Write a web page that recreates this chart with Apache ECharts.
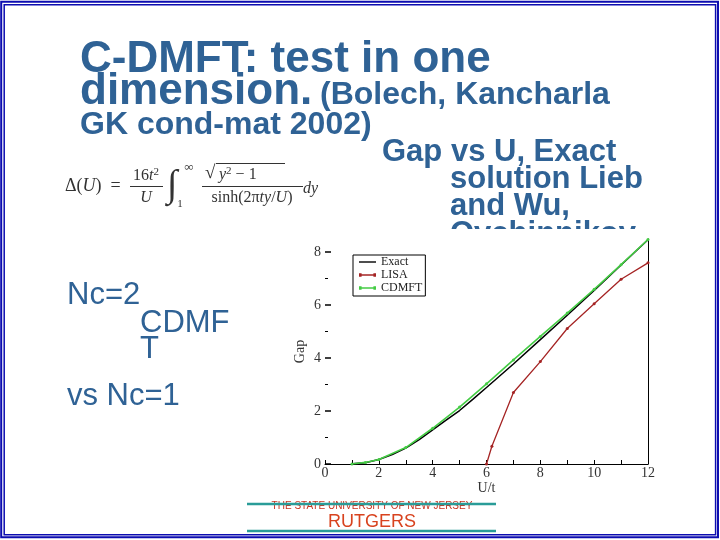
<!DOCTYPE html>
<html>
<head>
<meta charset="utf-8">
<script src="https://cdn.jsdelivr.net/npm/echarts@6/dist/echarts.min.js"></script>
<style>html,body{margin:0;padding:0;background:#fff}#c{width:720px;height:540px}</style>
</head>
<body>
<div id="c"></div>
<script>
// ---- data ----
var exactU   = [1, 1.5, 2, 2.5, 3, 3.5, 4, 4.5, 5, 5.5, 6, 7, 8, 9, 10, 11, 12];
var exactGap = [0.005, 0.05, 0.17, 0.36, 0.6, 0.92, 1.29, 1.66, 2.02, 2.45, 2.89, 3.78, 4.7, 5.62, 6.56, 7.52, 8.47];
var lisaU    = [6, 6.2, 7, 8, 9, 10, 11, 12];
var lisaGap  = [0, 0.67, 2.7, 3.87, 5.12, 6.05, 6.98, 7.6];
var cdmftU   = [1, 1.5, 2, 3, 4, 5, 6, 7, 8, 9, 10, 11, 12];
var cdmftGap = [0, 0.06, 0.17, 0.62, 1.35, 2.15, 3.03, 3.93, 4.82, 5.7, 6.6, 7.53, 8.48];
var yMajorTicks = [0, 2, 4, 6, 8];
var yMinorTicks = [1, 3, 5, 7];
var seriesNames = ['Exact', 'LISA', 'CDMFT'];

function pairs(xs, ys){ return xs.map(function(x,i){ return [x, ys[i]]; }); }

var blue = '#2f6295';
var serif = '"Liberation Serif","DejaVu Serif",serif';
var sans = '"Liberation Sans",Arial,sans-serif';

var iconLine = 'path://M0,2 L17,2 L17,3.4 L0,3.4 Z';
var iconDots = 'path://M0,2 L17,2 L17,3.4 L0,3.4 Z M0,1 L2.6,1 L2.6,4.4 L0,4.4 Z M14.4,1 L17,1 L17,4.4 L14.4,4.4 Z';

var chart = echarts.init(document.getElementById('c'), null, {renderer:'canvas'});

var graphics = [
  // slide double border
  {type:'rect', z:100, shape:{x:1.2,y:1.8,width:716.8,height:535.5}, style:{fill:null, stroke:'#0c0cb0', lineWidth:2}},
  {type:'rect', z:100, shape:{x:4.2,y:4.8,width:711.4,height:530}, style:{fill:null, stroke:'#0c0cb0', lineWidth:1.5}},
  // title
  {type:'text', style:{x:80, y:60, text:'C-DMFT: test in one', font:'bold 44px '+sans, fill:blue, verticalAlign:'middle'}},
  {type:'text', style:{x:80, y:92, text:'dimension.', font:'bold 44px '+sans, fill:blue, verticalAlign:'middle'}},
  {type:'text', style:{x:320, y:95, text:'(Bolech, Kancharla', font:'bold 32px '+sans, fill:blue, verticalAlign:'middle'}},
  {type:'text', style:{x:80, y:125, text:'GK cond-mat 2002)', font:'bold 32px '+sans, fill:blue, verticalAlign:'middle'}},
  {type:'text', style:{x:382, y:152, text:'Gap vs U, Exact', font:'bold 31px '+sans, fill:blue, verticalAlign:'middle'}},
  {type:'text', style:{x:450, y:179, text:'solution Lieb', font:'bold 31px '+sans, fill:blue, verticalAlign:'middle'}},
  {type:'text', style:{x:450, y:206, text:'and Wu,', font:'bold 31px '+sans, fill:blue, verticalAlign:'middle'}},
  {type:'text', z:0, style:{x:450, y:234, text:'Ovchinnikov', font:'bold 31px '+sans, fill:blue, verticalAlign:'middle'}},
  // white sheet of the embedded plot, clipping the last line
  {type:'rect', z:1, shape:{x:285,y:229,width:380,height:262}, style:{fill:'#fff'}},
  // left labels
  {type:'text', style:{x:67, y:295, text:'Nc=2', font:'31px '+sans, fill:blue, verticalAlign:'middle'}},
  {type:'text', style:{x:140, y:323, text:'CDMF', font:'31px '+sans, fill:blue, verticalAlign:'middle'}},
  {type:'text', style:{x:140, y:349, text:'T', font:'31px '+sans, fill:blue, verticalAlign:'middle'}},
  {type:'text', style:{x:67, y:396, text:'vs Nc=1', font:'31px '+sans, fill:blue, verticalAlign:'middle'}},
  // formula
  {type:'text', style:{x:65, y:186, verticalAlign:'middle', fill:'#333', font:'18px '+serif,
     text:'{a|Δ(}{i|U}{a|)  =}', rich:{a:{font:'18px '+serif, fill:'#333'}, i:{font:'italic 18px '+serif, fill:'#333'}}}},
  {type:'text', style:{x:146, y:176, align:'center', verticalAlign:'middle', fill:'#333', font:'16px '+serif,
     text:'{a|16}{i|t}{s|2}', rich:{a:{font:'16px '+serif, fill:'#333'}, i:{font:'italic 16px '+serif, fill:'#333'}, s:{font:'11px '+serif, fill:'#333', verticalAlign:'top', padding:[0,0,8,0]}}}},
  {type:'line', shape:{x1:130,y1:186.5,x2:163,y2:186.5}, style:{stroke:'#333', lineWidth:1}},
  {type:'text', style:{x:146, y:198, align:'center', verticalAlign:'middle', text:'U', font:'italic 16px '+serif, fill:'#333'}},
  {type:'text', style:{x:172, y:186, align:'center', verticalAlign:'middle', text:'∫', font:'38px '+serif, fill:'#333'}},
  {type:'text', style:{x:189, y:168, align:'center', verticalAlign:'middle', text:'∞', font:'13px '+serif, fill:'#333'}},
  {type:'text', style:{x:180, y:204, align:'center', verticalAlign:'middle', text:'1', font:'11px '+serif, fill:'#333'}},
  {type:'text', style:{x:205, y:173, verticalAlign:'middle', text:'√', font:'19px '+serif, fill:'#333'}},
  {type:'line', shape:{x1:216,y1:163.5,x2:285,y2:163.5}, style:{stroke:'#333', lineWidth:1}},
  {type:'text', style:{x:219, y:175, verticalAlign:'middle', fill:'#333', font:'16px '+serif,
     text:'{i|y}{s|2}{a| − 1}', rich:{a:{font:'16px '+serif, fill:'#333'}, i:{font:'italic 16px '+serif, fill:'#333'}, s:{font:'11px '+serif, fill:'#333', padding:[0,0,8,0]}}}},
  {type:'line', shape:{x1:202,y1:186.5,x2:303,y2:186.5}, style:{stroke:'#333', lineWidth:1}},
  {type:'text', style:{x:252, y:198, align:'center', verticalAlign:'middle', fill:'#333', font:'16px '+serif,
     text:'{a|sinh(2π}{i|ty}{a|/}{i|U}{a|)}', rich:{a:{font:'16px '+serif, fill:'#333'}, i:{font:'italic 16px '+serif, fill:'#333'}}}},
  {type:'text', style:{x:303, y:189, verticalAlign:'middle', text:'dy', font:'italic 16px '+serif, fill:'#333'}},
  // footer
  {type:'text', z:2, style:{x:372, y:506, align:'center', verticalAlign:'middle', text:'THE STATE UNIVERSITY OF NEW JERSEY', font:'10px '+sans, fill:'#c8331f'}},
  {type:'line', z:10, shape:{x1:247,y1:504,x2:496,y2:504}, style:{stroke:'#2a9c98', lineWidth:2.5}},
  {type:'text', z:2, style:{x:372, y:522, align:'center', verticalAlign:'middle', text:'RUTGERS', font:'18px '+sans, fill:'#d8431f'}},
  {type:'line', z:10, shape:{x1:247,y1:531,x2:496,y2:531}, style:{stroke:'#2a9c98', lineWidth:2.5}}
];

var option = {
  animation: false,
  backgroundColor: '#fff',
  graphic: graphics,
  grid: {left:325, right:72, top:239, bottom:76, containLabel:false},
  legend: {
    z: 10,
    data: [
      {name:'Exact', icon:iconLine},
      {name:'LISA', icon:iconDots},
      {name:'CDMFT', icon:iconDots}
    ],
    orient:'vertical', left:353, top:255,
    backgroundColor:'#fff', borderColor:'#000', borderWidth:1,
    padding:[1,3,2,6], itemGap:1, itemWidth:17, itemHeight:5,
    textStyle:{fontFamily:serif, fontSize:12, color:'#222'}
  },
  xAxis: {
    type:'value', min:0, max:12, interval:1, z:5,
    name:'U/t', nameLocation:'middle', nameGap:16,
    nameTextStyle:{fontFamily:serif, fontSize:14, color:'#333'},
    axisLine:{show:true, onZero:false, lineStyle:{color:'#000', width:1}},
    axisTick:{show:true, inside:true, length:4, lineStyle:{color:'#000'}},
    axisLabel:{margin:2, fontFamily:serif, fontSize:14, color:'#333',
      formatter:function(v){ return v % 2 === 0 ? String(v) : ''; }},
    splitLine:{show:false}
  },
  yAxis: [
    {
      type:'value', min:0, max:8.5, position:'left', z:5,
      name:'Gap', nameLocation:'middle', nameGap:18,
      nameTextStyle:{fontFamily:serif, fontSize:14, color:'#333'},
      axisLine:{show:false},
      axisTick:{show:true, inside:true, length:6, customValues:yMajorTicks, lineStyle:{color:'#000', width:1.5}},
      axisLabel:{margin:4, fontFamily:serif, fontSize:14, color:'#333', customValues:yMajorTicks},
      splitLine:{show:false}
    },
    {
      type:'value', min:0, max:8.5, position:'left', z:5,
      axisLine:{show:false},
      axisTick:{show:true, inside:true, length:3, customValues:yMinorTicks, lineStyle:{color:'#000'}},
      axisLabel:{show:false},
      splitLine:{show:false}
    },
    {
      type:'value', min:0, max:8.5, position:'right', z:5,
      axisLine:{show:true, lineStyle:{color:'#000', width:1}},
      axisTick:{show:false}, axisLabel:{show:false}, splitLine:{show:false}
    }
  ],
  series: [
    {name:'Exact', type:'line', data:pairs(exactU, exactGap), showSymbol:false, symbol:'none',
     lineStyle:{color:'#000', width:1.5}, itemStyle:{color:'#000'}, z:6},
    {name:'LISA', type:'line', data:pairs(lisaU, lisaGap), symbol:'circle', symbolSize:3,
     lineStyle:{color:'#a52424', width:1.3}, itemStyle:{color:'#a52424'}, z:7},
    {name:'CDMFT', type:'line', data:pairs(cdmftU, cdmftGap), symbol:'circle', symbolSize:3,
     lineStyle:{color:'#44cc44', width:1.6}, itemStyle:{color:'#44cc44'}, z:8}
  ]
};
chart.setOption(option);
</script>
</body>
</html>
